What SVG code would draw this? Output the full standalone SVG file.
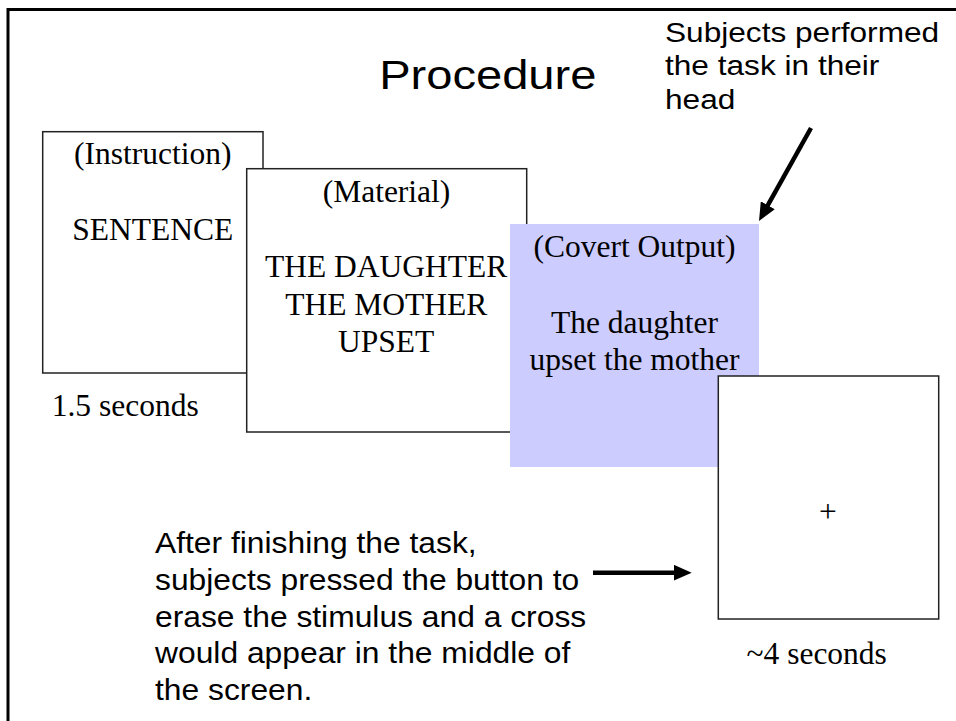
<svg xmlns="http://www.w3.org/2000/svg" width="956" height="721" viewBox="0 0 956 721">
<defs>
<style>
.box{fill:#fff;stroke:#222;stroke-width:1.5}
.serif{font-family:"Liberation Serif","Times New Roman",serif;font-size:31.5px;fill:#000}
.sans{font-family:"Liberation Sans",Arial,sans-serif;fill:#000}
.arrow{stroke:#000;stroke-width:4.5;fill:none}
</style>
<marker id="head" markerUnits="userSpaceOnUse" markerWidth="18" markerHeight="16" refX="9" refY="8" orient="auto">
<path d="M0,0 L18,8 L0,16 z" fill="#000"/>
</marker>
</defs>
<rect width="956" height="721" fill="#fff"/>
<path d="M8,721 V9.5 H956" fill="none" stroke="#000" stroke-width="3"/>
<g id="title" class="sans">
<text transform="translate(487.8,89) scale(1.135,1)" text-anchor="middle" font-size="41.5">Procedure</text>
</g>
<g id="note-top" class="sans" transform="translate(665,0) scale(1.15,1)" font-size="27.5">
<text x="0" y="42.3">Subjects performed</text>
<text x="0" y="75">the task in their</text>
<text x="0" y="108.7">head</text>
</g>
<g id="instruction">
<rect class="box" x="42.7" y="131.7" width="220.3" height="241.3"/>
<text class="serif" x="152.8" y="164.3" text-anchor="middle">(Instruction)</text>
<text class="serif" x="152.8" y="240" text-anchor="middle">SENTENCE</text>
<text class="serif" x="51.7" y="415.7">1.5 seconds</text>
</g>
<g id="material">
<rect class="box" x="246.7" y="168.7" width="280" height="263.3"/>
<text class="serif" x="386.5" y="201.7" text-anchor="middle">(Material)</text>
<text class="serif" x="386.2" y="277" text-anchor="middle">THE DAUGHTER</text>
<text class="serif" x="386.2" y="314.5" text-anchor="middle">THE MOTHER</text>
<text class="serif" x="386.2" y="352" text-anchor="middle">UPSET</text>
</g>
<g id="covert">
<rect x="510" y="224" width="249" height="243" fill="#ccccff"/>
<text class="serif" x="634.5" y="256.7" text-anchor="middle">(Covert Output)</text>
<text class="serif" x="634.5" y="332.7" text-anchor="middle">The daughter</text>
<text class="serif" x="634.5" y="370" text-anchor="middle">upset the mother</text>
</g>
<g id="fixation">
<rect class="box" x="718.3" y="376" width="220.4" height="243"/>
<text class="serif" x="828" y="521.7" text-anchor="middle">+</text>
<text class="serif" x="816.7" y="664" text-anchor="middle">~4 seconds</text>
</g>
<g id="note-bottom" class="sans" transform="translate(155,0) scale(1.06,1)" font-size="30">
<text x="0" y="553.3">After finishing the task,</text>
<text x="0" y="590">subjects pressed the button to</text>
<text x="0" y="626.7">erase the stimulus and a cross</text>
<text x="0" y="663.3">would appear in the middle of</text>
<text x="0" y="700">the screen.</text>
</g>
<g id="connectors">
<line class="arrow" x1="811" y1="128" x2="763.4" y2="213.1" marker-end="url(#head)"/>
<line class="arrow" x1="593" y1="572.7" x2="682.7" y2="572.7" marker-end="url(#head)"/>
</g>
</svg>
